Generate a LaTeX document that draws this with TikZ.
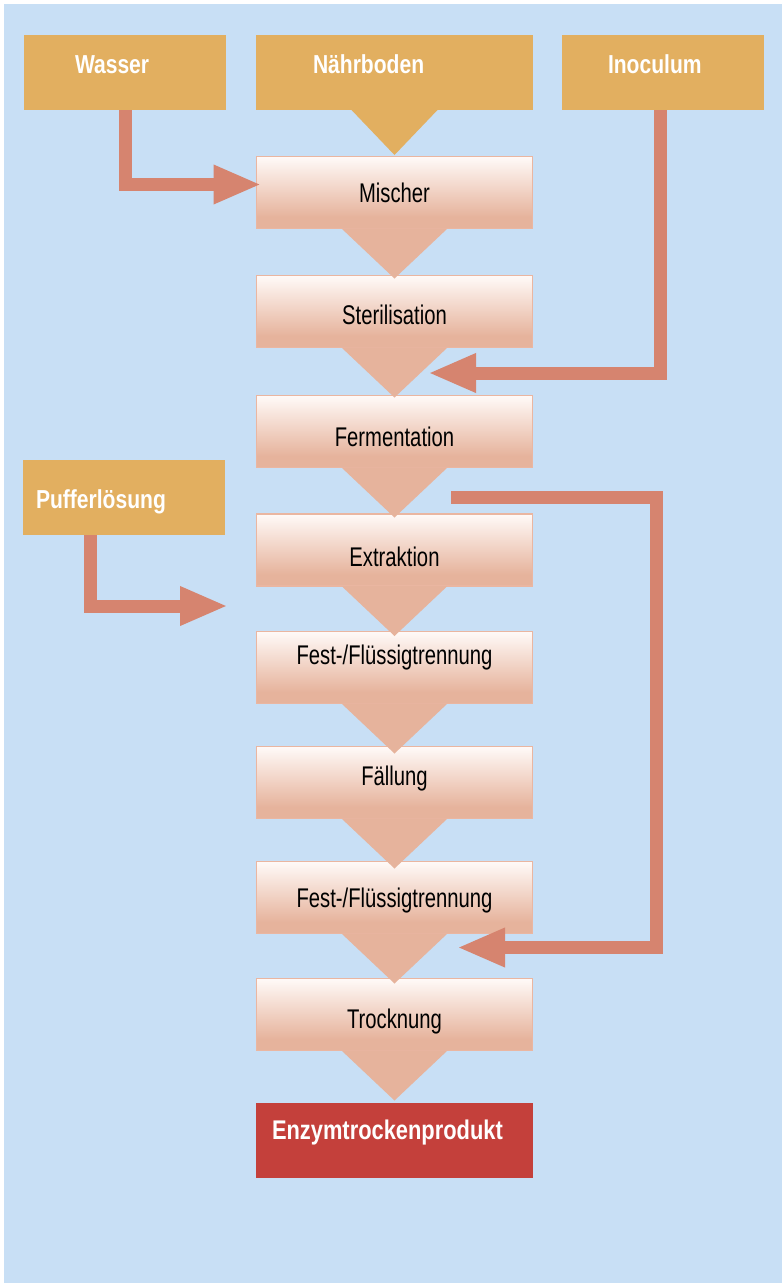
\documentclass[tikz,border=0pt]{standalone}
\usepackage{fontspec}
\setmainfont{Liberation Sans}[FakeStretch=0.75]
\newfontfamily\headfont{Liberation Sans}[FakeStretch=0.81]
\usepackage{tikz}
\usetikzlibrary{arrows.meta}

\definecolor{bgblue}{HTML}{C8DFF5}
\definecolor{inorange}{HTML}{E2AF60}
\definecolor{arrowred}{HTML}{D6846F}
\definecolor{boxtop}{HTML}{FFFAF8}
\definecolor{boxbot}{HTML}{E6B39C}
\definecolor{boxline}{HTML}{EAB6A1}
\definecolor{prodred}{HTML}{C4403B}
\pgfdeclareverticalshading{boxshade}{100bp}{color(0bp)=(boxbot); color(33bp)=(boxbot); color(75bp)=(boxtop); color(100bp)=(boxtop)}

\begin{document}
\begin{tikzpicture}[x=1pt, y=-1pt,
    stepbox/.style={draw=boxline, line width=1.2pt, shading=boxshade, minimum width=276pt,
        minimum height=72pt, inner sep=0pt, outer sep=0pt,
        font=\fontsize{27}{30}\selectfont, text height=20pt, text depth=0pt},
    inbox/.style={fill=inorange, minimum height=75pt, inner ysep=0pt, outer sep=0pt, align=left,
        text=white, font=\headfont\bfseries\fontsize{26}{28}\selectfont, text height=20pt, text depth=19pt},
    feed/.style={arrowred, line width=13pt, -{Triangle[length=48pt, width=36pt]}},
    tri/.style={fill=boxbot}]
    \useasboundingbox (0,0) rectangle (782,1283);
    \fill[bgblue] (4,4) rectangle (782,1283);

    % inputs
    \node[inbox, inner xsep=51pt, text width=100pt] (wasser) at (125,72.5) {Wasser};
    \node[inbox, inner xsep=57pt, text width=163pt] (naehr) at (394.5,72.5) {Nährboden};
    \node[inbox, inner xsep=46pt, text width=110pt] (inoc) at (663,72.5) {Inoculum};
    \node[inbox, inner xsep=13pt, text width=176pt, text height=21pt, text depth=0pt] (puffer) at (124,497.5) {Pufferlösung};

    % process steps
    \node[stepbox, text depth=1pt] (mischer) at (394.5,192.5) {Mischer};
    \node[stepbox, text height=25pt] (steril) at (394.5,311.5) {Sterilisation};
    \node[stepbox, text height=29pt] (ferment) at (394.5,431.5) {Fermentation};
    \node[stepbox, text height=32pt] (extrakt) at (394.5,550) {Extraktion};
    \node[stepbox, text depth=27pt] (fft1) at (394.5,667.5) {Fest-/Flüssigtrennung};
    \node[stepbox, text depth=15pt] (faell) at (394.5,782.5) {Fällung};
    \node[stepbox, text depth=1pt] (fft2) at (394.5,897.5) {Fest-/Flüssigtrennung};
    \node[stepbox, text height=27pt] (trock) at (394.5,1014.5) {Trocknung};
    \node[inbox, fill=prodred, inner xsep=16pt, text width=245pt, text depth=23pt,
        font=\headfont\bfseries\fontsize{27}{29}\selectfont] (produkt) at (394.5,1140.5) {Enzymtrockenprodukt};

    % flow triangles
    \fill[inorange] ([xshift=-43pt]naehr.south) -- ([xshift=43pt]naehr.south) -- ([yshift=-45pt]naehr.south) -- cycle;
    \foreach \b in {mischer,steril,ferment,extrakt,fft1,faell,fft2,trock}
        \fill[tri] ([xshift=-53pt]\b.south) -- ([xshift=53pt]\b.south) -- ([yshift=-50pt]\b.south) -- cycle;

    % feed arrows
    \coordinate (inoc-in) at (428,373);
    \coordinate (puffer-in) at (228,606);
    \coordinate (rueck-aus) at (451,497.5);
    \coordinate (rueck-in) at (457,947.5);
    \draw[feed] (wasser.south) |- ([xshift=5pt,yshift=8pt]mischer.west);
    \draw[feed] ([xshift=-3pt]inoc.south) |- (inoc-in);
    \draw[feed] ([xshift=-34pt]puffer.south) |- (puffer-in);
    \draw[feed] (rueck-aus) -- ++(205,0) |- (rueck-in);
\end{tikzpicture}
\end{document}
